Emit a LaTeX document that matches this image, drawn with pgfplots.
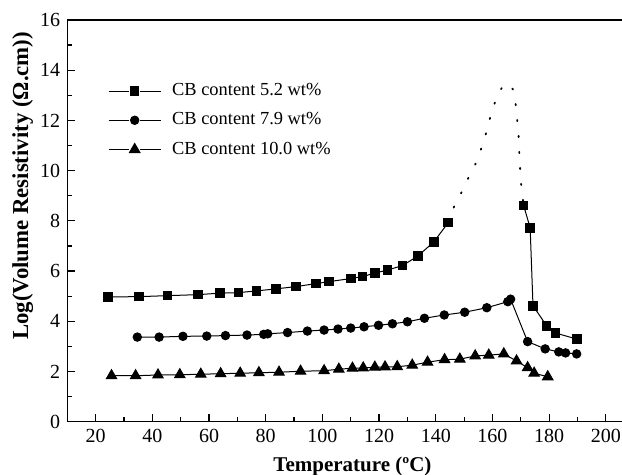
\documentclass[border=0pt]{standalone}
\usepackage{fontspec}
\setmainfont{Liberation Serif}
\usepackage{pgfplots}
\pgfplotsset{compat=1.18}

\begin{document}
\begin{tikzpicture}
\begin{axis}[
  scale only axis,
  width=277.35pt, height=200.85pt,
  xmin=10, xmax=205.7, ymin=0, ymax=16,
  axis x line=box, axis y line=left,
  every non boxed y axis/.append style={y axis line style={-}},
  axis line style={-, line width=0.7pt},
  xtick={20,40,...,200}, minor xtick={30,50,...,190},
  ytick={0,2,...,16}, minor ytick={1,3,...,15},
  xtick pos=bottom, ytick pos=left,
  tick align=inside,
  major tick length=4pt, minor tick length=2.25pt,
  tick style={black, line width=0.6pt},
  /pgf/number format/assume math mode=true,
  tick label style={font=\fontsize{10}{12}\selectfont},
  xlabel={\textbf{Temperature (ºC)}},
  ylabel={\textbf{Log(Volume Resistivity (Ω.cm))}},
  xlabel style={font=\fontsize{10.5}{12}\selectfont, at={([yshift=-24.8pt]rel axis cs:0.514,0)}, anchor=base},
  ylabel style={font=\fontsize{11.4}{13}\selectfont, at={([xshift=-22.25pt]rel axis cs:0,0.587)}, anchor=center},
  unbounded coords=jump,
  legend cell align=left,
  legend style={draw=none, fill=none, at={(rel axis cs:0.0622,0.863)}, anchor=north west,
    font=\fontsize{9.2}{11}\selectfont, row sep=3pt, column sep=3.5pt},
  legend image code/.code={
    \draw[mark=none] (0pt,0pt) -- (10.2pt,0pt) (15.8pt,0pt) -- (26pt,0pt);
    \draw plot coordinates {(13pt,0pt)};
  },
]
\coordinate (sw) at (rel axis cs:0,0);
\coordinate (ne) at (rel axis cs:1,1);

% 5.2 wt% carbon black: below and above the PTC transition
\addplot[black, line width=0.5pt, mark=square*, mark size=2.15pt, mark options={solid, fill=black}]
coordinates {
 (24.4,4.97) (35.2,4.98) (45.3,5.02) (56.1,5.06) (63.8,5.12) (70.4,5.14) (76.8,5.21)
 (83.6,5.29) (90.6,5.38) (97.7,5.50) (102.4,5.58) (110.0,5.70) (114.2,5.78) (118.5,5.92)
 (123.0,6.04) (128.3,6.22) (133.7,6.60) (139.3,7.16) (144.4,7.93)
 (158,nan)
 (171.0,8.61) (173.3,7.72) (174.3,4.62) (179.1,3.82) (182.3,3.53) (189.8,3.29)
};
\addlegendentry{CB content 5.2 wt\%}

% 7.9 wt% carbon black
\addplot[black, line width=0.5pt, mark=*, mark size=2.1pt, mark options={solid, fill=black}]
coordinates {
 (34.7,3.37) (42.4,3.37) (50.8,3.40) (59.2,3.41) (65.8,3.43) (73.4,3.45) (79.3,3.48)
 (80.7,3.50) (87.7,3.55) (94.7,3.61) (100.6,3.65) (105.5,3.69) (110.0,3.73) (114.7,3.78)
 (119.8,3.84) (124.7,3.90) (130.0,3.98) (136.0,4.12) (143.0,4.25) (150.2,4.36) (158.0,4.54)
 (165.4,4.78) (166.4,4.88) (172.4,3.19) (178.6,2.90) (183.4,2.78) (185.8,2.74) (189.7,2.70)
};
\addlegendentry{CB content 7.9 wt\%}

% 10.0 wt% carbon black
\addplot[black, line width=0.5pt, mark=triangle*, mark size=3pt, mark options={solid, fill=black}]
coordinates {
 (25.6,1.83) (34.1,1.83) (42.0,1.86) (49.7,1.87) (57.1,1.89) (64.1,1.91) (71.0,1.93)
 (77.6,1.95) (84.7,1.97) (92.3,2.01) (100.6,2.03) (105.8,2.09) (110.6,2.13) (114.4,2.14)
 (118.5,2.17) (122.1,2.18) (126.4,2.19) (131.7,2.25) (137.1,2.37) (143.1,2.47) (148.5,2.49)
 (153.9,2.62) (158.7,2.65) (164.0,2.70) (168.5,2.42) (172.4,2.15) (174.7,1.93) (179.5,1.79)
};
\addlegendentry{CB content 10.0 wt\%}

% estimated resistivity peak of the 5.2 wt% sample
\addplot[forget plot, black, line width=0.9pt, line cap=round, dash pattern=on 0.6pt off 7.4pt]
coordinates {
 (144.4,7.93) (146.6,8.61) (149.3,9.18) (151.8,9.78) (154.4,10.35) (156.3,10.96)
 (157.9,11.56) (159.3,12.16) (161.0,12.76) (163.4,13.33) (165.3,13.48) (167.2,13.24)
 (168.2,12.63) (168.7,12.05) (169.2,11.45) (169.4,10.85) (169.7,10.27) (169.9,9.67)
 (171.0,8.61)
};
\end{axis}
\pgfresetboundingbox
\path[use as bounding box] ([xshift=-33.65pt,yshift=-26.65pt]sw) rectangle ([yshift=10pt]ne);
\end{tikzpicture}
\end{document}
